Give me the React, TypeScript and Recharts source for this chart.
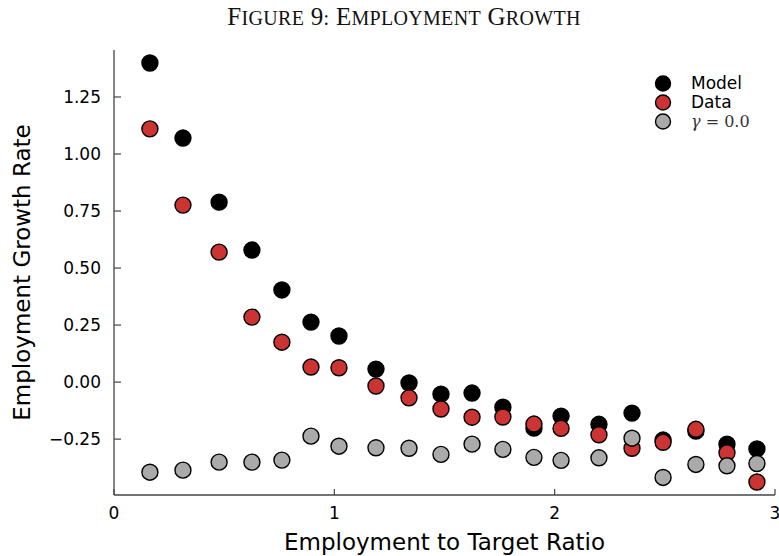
import { ScatterChart, Scatter, XAxis, YAxis } from "recharts";

const ratios = [
  0.163, 0.313, 0.477, 0.626, 0.762, 0.894, 1.021, 1.189, 1.339, 1.484, 1.625,
  1.765, 1.906, 2.029, 2.201, 2.351, 2.492, 2.641, 2.782, 2.918,
];
const model = [
  1.399, 1.07, 0.789, 0.579, 0.404, 0.263, 0.202, 0.057, -0.004, -0.053,
  -0.048, -0.11, -0.202, -0.149, -0.185, -0.136, -0.254, -0.215, -0.272,
  -0.293,
];
const observed = [
  1.11, 0.776, 0.57, 0.285, 0.175, 0.066, 0.063, -0.017, -0.069, -0.118,
  -0.154, -0.153, -0.184, -0.203, -0.231, -0.29, -0.264, -0.207, -0.31,
  -0.438,
];
const gammaZero = [
  -0.395, -0.386, -0.351, -0.351, -0.342, -0.237, -0.281, -0.288, -0.29,
  -0.317, -0.272, -0.295, -0.33, -0.343, -0.332, -0.246, -0.418, -0.361,
  -0.367, -0.357,
];
const xTicks = [0, 1, 2, 3];
const yTicks = [-0.25, 0, 0.25, 0.5, 0.75, 1.0, 1.25];

const toPoints = (ys: number[]) => ratios.map((x, i) => ({ x, y: ys[i] }));

const series = [
  { name: "Model", data: toPoints(model), fill: "#000000" },
  { name: "Data", data: toPoints(observed), fill: "#cc3333" },
  { name: "gamma", data: toPoints(gammaZero), fill: "#aaaaaa" },
];

const FONT = "'DejaVu Sans', sans-serif";
const SERIF = "'Liberation Serif', serif";
const AXIS = "#444444";

const fmtY = (v: number) => v.toFixed(2).replace("-", "\u2212");

const YTick = ({ x, y, payload }: any) => (
  <g>
    <line x1={x} x2={x + 7} y1={y} y2={y} stroke={AXIS} strokeWidth={1.2} />
    <text
      x={x - 13}
      y={y}
      textAnchor="end"
      dominantBaseline="central"
      fontSize={17}
      fontFamily={FONT}
      fill="#000"
    >
      {fmtY(payload.value)}
    </text>
  </g>
);

const XTick = ({ x, y, payload }: any) => (
  <g>
    <line x1={x} x2={x} y1={y} y2={y - 6} stroke={AXIS} strokeWidth={1.2} />
    <text
      x={x}
      y={y + 18}
      textAnchor="middle"
      dominantBaseline="central"
      fontSize={17}
      fontFamily={FONT}
      fill="#000"
    >
      {payload.value}
    </text>
  </g>
);

const dot = (fill: string) => (props: any) =>
  (
    <circle
      cx={props.cx}
      cy={props.cy}
      r={8}
      fill={fill}
      stroke="#000"
      strokeWidth={1.4}
    />
  );

// small caps by hand: first letters large, the rest smaller capitals
const titleWords = ["Figure", "9:", "Employment", "Growth"];

const Title = () => (
  <svg
    width={779}
    height={40}
    style={{ position: "absolute", left: 0, top: 0 }}
  >
    <text
      x={404}
      y={25}
      textAnchor="middle"
      fontFamily={SERIF}
      fill="#111"
      fontSize={25}
      letterSpacing={0.3}
    >
      {titleWords.map((w, i) => (
        <tspan key={w}>
          {i > 0 ? " " : ""}
          <tspan fontSize={25}>{w[0].toUpperCase()}</tspan>
          <tspan fontSize={20}>{w.slice(1).toUpperCase()}</tspan>
        </tspan>
      ))}
    </text>
  </svg>
);

const LegendBox = () => (
  <div
    style={{
      position: "absolute",
      left: 654,
      top: 74,
      fontFamily: FONT,
      fontSize: 17,
      lineHeight: "19px",
    }}
  >
    {series.map((s) => (
      <div key={s.name} style={{ display: "flex", alignItems: "center", height: 19 }}>
        <svg width={18} height={19} style={{ marginRight: 19 }}>
          <circle cx={9} cy={9.5} r={7.5} fill={s.fill} stroke="#000" strokeWidth={1.4} />
        </svg>
        {s.name === "gamma" ? (
          <span style={{ fontFamily: "'DejaVu Serif', serif", color: "#333", fontSize: 16 }}>
            <i>γ</i> = 0.0
          </span>
        ) : (
          <span>{s.name}</span>
        )}
      </div>
    ))}
  </div>
);

export default function App() {
  return (
    <div
      style={{
        position: "absolute",
        left: 0,
        top: 0,
        width: 779,
        height: 556,
        background: "#fff",
        overflow: "hidden",
      }}
    >
      <Title />
      <ScatterChart
        width={779}
        height={556}
        margin={{ top: 50, right: 4, left: 0, bottom: 0 }}
      >
        <XAxis
          type="number"
          dataKey="x"
          domain={[0, 3]}
          ticks={xTicks}
          interval={0}
          height={61}
          tickSize={0}
          tickMargin={0}
          tickLine={false}
          tick={<XTick />}
          axisLine={{ stroke: AXIS, strokeWidth: 1.3 }}
          allowDataOverflow
          label={{
            value: "Employment to Target Ratio",
            position: "insideBottom",
            offset: 6,
            style: { fontFamily: FONT, fontSize: 23, fill: "#000" },
          }}
        />
        <YAxis
          type="number"
          dataKey="y"
          domain={[-0.495, 1.456]}
          ticks={yTicks}
          interval={0}
          width={114}
          tickSize={0}
          tickMargin={0}
          tickLine={false}
          tick={<YTick />}
          axisLine={{ stroke: AXIS, strokeWidth: 1.3 }}
          allowDataOverflow
          label={{
            value: "Employment Growth Rate",
            angle: -90,
            position: "insideLeft",
            offset: 22,
            style: {
              fontFamily: FONT,
              fontSize: 23,
              fill: "#000",
              textAnchor: "middle",
            },
          }}
        />
        {series.map((s) => (
          <Scatter
            key={s.name}
            name={s.name}
            data={s.data}
            fill={s.fill}
            shape={dot(s.fill)}
            isAnimationActive={false}
          />
        ))}
      </ScatterChart>
      <LegendBox />
    </div>
  );
}
